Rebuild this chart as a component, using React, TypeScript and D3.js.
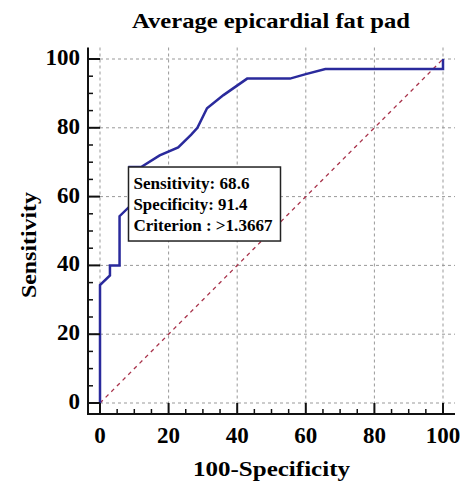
import React from 'react';
import * as d3 from 'd3';

// ROC curve points (100-Specificity, Sensitivity)
const rocX = [0, 0, 2.9, 2.9, 5.7, 5.7, 8.6, 8.6, 12.0, 17.4, 22.8, 26.6, 28.4, 31.2, 36.0, 42.9, 55.4, 60.0, 65.7, 100, 100];
const rocY = [0, 34.3, 37.1, 40.0, 40.0, 54.3, 57.1, 68.6, 68.6, 72.0, 74.3, 78.0, 80.0, 85.7, 89.5, 94.3, 94.3, 95.6, 97.1, 97.1, 100];

const majorTicks = [0, 20, 40, 60, 80, 100];
const minorTicks = [5, 10, 15, 25, 30, 35, 45, 50, 55, 65, 70, 75, 85, 90, 95];

const criterionPoint = [8.6, 68.6];
const criterionLines = ['Sensitivity: 68.6', 'Specificity: 91.4', 'Criterion : >1.3667'];
const criterionWidths = [116, 114, 139];

const W = 465, H = 483;
const FONT = '"Liberation Serif", "Times New Roman", serif';

export default function App() {
  const x = d3.scaleLinear().domain([0, 100]).range([100, 443]);
  const y = d3.scaleLinear().domain([0, 100]).range([403, 59]);

  const axisLeft = 88, axisBottom = 414, plotTop = 47.5, plotRight = 455;

  const pts: [number, number][] = rocX.map((v, i) => [v, rocY[i]]);
  const line = d3.line<[number, number]>().x(d => x(d[0])).y(d => y(d[1]));

  const bx = x(criterionPoint[0]) - 1, by = y(criterionPoint[1]);

  return (
    <svg width={W} height={H} style={{ position: 'absolute', left: 0, top: 0, background: '#fff' }} fontFamily={FONT}>
      <rect width={W} height={H} fill="#fff" />
      {/* title */}
      <text x={132} y={28} fontSize={21} fontWeight="bold" textLength={278} lengthAdjust="spacingAndGlyphs">Average epicardial fat pad</text>

      {/* grid */}
      {majorTicks.map(t => (
        <line key={'gy' + t} x1={axisLeft} x2={plotRight} y1={y(t)} y2={y(t)} stroke="#999" strokeWidth={1} strokeDasharray="3,3" />
      ))}
      {majorTicks.map(t => (
        <line key={'gx' + t} x1={x(t)} x2={x(t)} y1={plotTop} y2={axisBottom} stroke="#999" strokeWidth={1} strokeDasharray="3,3" />
      ))}

      {/* diagonal reference */}
      <line x1={x(0)} y1={y(0)} x2={x(100)} y2={y(100)} stroke="#a8324a" strokeWidth={1.3} strokeDasharray="4,4" />

      {/* ROC curve */}
      <path d={line(pts) || ''} fill="none" stroke="#2a2a9c" strokeWidth={2.5} />

      {/* axes */}
      <line x1={axisLeft} x2={axisLeft} y1={plotTop} y2={axisBottom + 1} stroke="#111" strokeWidth={2} />
      <line x1={axisLeft - 1} x2={plotRight} y1={axisBottom} y2={axisBottom} stroke="#111" strokeWidth={2} />
      {majorTicks.map(t => (
        <g key={'mt' + t}>
          <line x1={axisLeft} x2={x(0)} y1={y(t)} y2={y(t)} stroke="#111" strokeWidth={2} />
          <line x1={x(t)} x2={x(t)} y1={axisBottom} y2={y(0)} stroke="#111" strokeWidth={2} />
        </g>
      ))}
      {minorTicks.map(t => (
        <g key={'mn' + t}>
          <line x1={axisLeft} x2={axisLeft + 5} y1={y(t)} y2={y(t)} stroke="#111" strokeWidth={1.5} />
          <line x1={x(t)} x2={x(t)} y1={axisBottom} y2={axisBottom - 5} stroke="#111" strokeWidth={1.5} />
        </g>
      ))}

      {/* tick labels */}
      {majorTicks.map(t => (
        <text key={'ly' + t} x={80} y={y(t) + 6} textAnchor="end" fontSize={23} fontWeight="bold">{t}</text>
      ))}
      {majorTicks.map(t => (
        <text key={'lx' + t} x={x(t)} y={443} textAnchor="middle" fontSize={23} fontWeight="bold">{t}</text>
      ))}

      {/* axis titles */}
      <text x={193} y={476} fontSize={22} fontWeight="bold" textLength={157} lengthAdjust="spacingAndGlyphs">100-Specificity</text>
      <text transform={`translate(36,298) rotate(-90)`} fontSize={22} fontWeight="bold" textLength={106} lengthAdjust="spacingAndGlyphs">Sensitivity</text>

      {/* criterion box */}
      <rect x={bx} y={by} width={152} height={74} fill="#fff" stroke="#222" strokeWidth={1.5} />
      {criterionLines.map((s, i) => (
        <text key={s} x={bx + 5} y={by + 22 + i * 21} fontSize={16.5} fontWeight="bold" textLength={criterionWidths[i]} lengthAdjust="spacingAndGlyphs">{s}</text>
      ))}
    </svg>
  );
}
